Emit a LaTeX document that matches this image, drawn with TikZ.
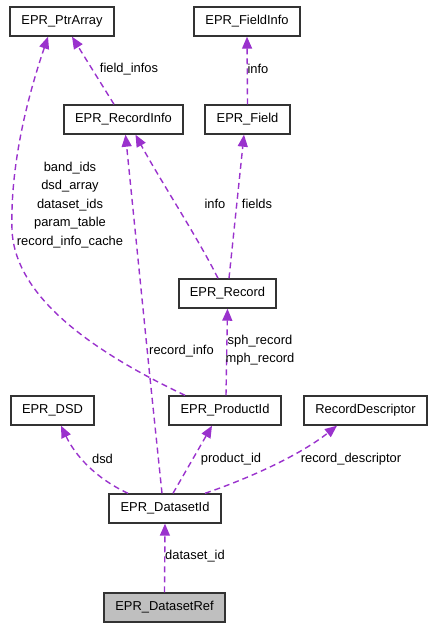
\documentclass[tikz,border=0pt]{standalone}
\usepackage{fontspec}
\setmainfont{Liberation Sans}
\usetikzlibrary{arrows.meta}
\definecolor{depcol}{RGB}{154,50,205}
\newcommand{\dgfont}{\fontsize{12.9}{18.6}\selectfont}
\tikzstyle{cls} = [rectangle, draw=black!80, line width=1.4pt, fill=white, minimum height=29pt, text centered, inner sep=0pt, font=\dgfont]
\tikzstyle{self} = [cls, fill=black!25]
\tikzstyle{dep} = [draw=depcol, line width=1.4pt, dash pattern=on 6pt off 4pt, -{Triangle[length=12pt,width=10pt]}]
\tikzstyle{lbl} = [font=\dgfont, align=center, inner sep=0pt]

\begin{document}
\begin{tikzpicture}[x=1pt, y=-1pt]
\useasboundingbox (0,0) rectangle (433,629);
% Row 1
\node (ptr) [cls, minimum width=104pt] at (62,21.5) {EPR\_PtrArray};
\node (fieldinfo) [cls, minimum width=106pt] at (247,21.5) {EPR\_FieldInfo};
% Row 2
\node (recinfo) [cls, minimum width=119pt] at (123.5,119.5) {EPR\_RecordInfo};
\node (field) [cls, minimum width=85pt] at (247.5,119.5) {EPR\_Field};
% Row 3
\node (record) [cls, minimum width=97pt] at (227.5,293.5) {EPR\_Record};
% Row 4
\node (dsd) [cls, minimum width=83pt] at (52.5,410.5) {EPR\_DSD};
\node (prodid) [cls, minimum width=112pt] at (225,410.5) {EPR\_ProductId};
\node (recdesc) [cls, minimum width=123pt] at (365.5,410.5) {RecordDescriptor};
% Row 5
\node (dsid) [cls, minimum width=112pt] at (165,508.5) {EPR\_DatasetId};
% Row 6
\node (dsref) [self, minimum width=121pt] at (164.5,607.5) {EPR\_DatasetRef};

% Arrows
\draw [dep] ([xshift=-40pt]prodid.north) .. controls (100,355) and (15,300) .. (12,230) .. controls (10,160) and (30,90) .. ([xshift=-14pt]ptr.south);
\draw [dep] ([xshift=-9.5pt]recinfo.north) -- ([xshift=10pt]ptr.south);
\draw [dep] (field.north) -- (fieldinfo.south);
\draw [dep] ([xshift=-9.5pt]record.north) .. controls (198,238) and (160,180) .. ([xshift=12pt]recinfo.south);
\draw [dep] ([xshift=1.5pt]record.north) -- ([xshift=-3.5pt]field.south);
\draw [dep] ([xshift=1pt]prodid.north) -- (record.south);
\draw [dep] ([xshift=-3pt]dsid.north) -- (150,378) -- ([xshift=2pt]recinfo.south);
\draw [dep] ([xshift=-37pt]dsid.north) .. controls (95,478) and (75,455) .. ([xshift=8.5pt]dsd.south);
\draw [dep] ([xshift=8pt]dsid.north) -- ([xshift=-13pt]prodid.south);
\draw [dep] ([xshift=40pt]dsid.north) .. controls (250,478) and (300,455) .. ([xshift=-28.5pt]recdesc.south);
\draw [dep] (dsref.north) -- (dsid.south);

% Labels
\node (lfieldinfos) [lbl] at (129,69) {field\_infos};
\node (linfoa) [lbl] at (258,69) {info};
\node (lptr) [lbl] at (70,205) {band\_ids\\dsd\_array\\dataset\_ids\\param\_table\\record\_info\_cache};
\node (linfob) [lbl] at (215,204) {info};
\node (lfields) [lbl] at (257,204) {fields};
\node (lrecinfo) [lbl] at (181.5,351) {record\_info};
\node (lrecord) [lbl] at (260,350) {sph\_record\\mph\_record};
\node (ldsd) [lbl] at (102.5,459) {dsd};
\node (lprodid) [lbl] at (231,459) {product\_id};
\node (lrecdesc) [lbl] at (351,459) {record\_descriptor};
\node (ldsid) [lbl] at (195,556) {dataset\_id};
\end{tikzpicture}
\end{document}
